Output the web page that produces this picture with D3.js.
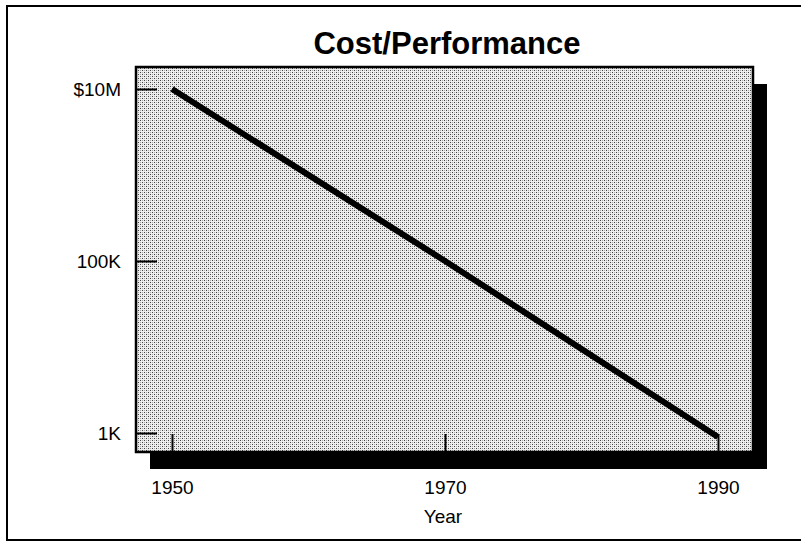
<!DOCTYPE html>
<html lang="en">
<head>
    <meta charset="UTF-8">
    <title>Cost/Performance</title>
    <style>
        body { margin: 0; background: #fff; }
        text { font-family: "Liberation Sans", Arial, Helvetica, sans-serif; fill: #000; }
    </style>
</head>
<body>
<script src="https://cdn.jsdelivr.net/npm/d3@7"></script>
<script>
    // data
    const years = [1950, 1970, 1990];
    const cost = [10000000, 100000, 900];
    const yTickValues = [1000, 100000, 10000000];
    const yTickLabels = ["1K", "100K", "$10M"];
    const xTickValues = [1950, 1970, 1990];

    const width = 801;
    const height = 542;

    // plot box
    const box = {left: 136, top: 67, right: 753, bottom: 452};
    const shadow = {dx: 14, dy: 17};

    const svg = d3.select("body").append("svg")
        .attr("width", width)
        .attr("height", height);

    // stipple fill
    const pattern = svg.append("defs").append("pattern")
        .attr("id", "dots")
        .attr("width", 4)
        .attr("height", 4)
        .attr("patternUnits", "userSpaceOnUse");
    pattern.append("rect").attr("width", 4).attr("height", 4).attr("fill", "#eeeeee");
    pattern.append("rect").attr("x", 0).attr("y", 0).attr("width", 1).attr("height", 1).attr("fill", "#444");
    pattern.append("rect").attr("x", 2).attr("y", 2).attr("width", 1).attr("height", 1).attr("fill", "#444");
    pattern.append("rect").attr("x", 2).attr("y", 0).attr("width", 1).attr("height", 1).attr("fill", "#aaa");
    pattern.append("rect").attr("x", 0).attr("y", 2).attr("width", 1).attr("height", 1).attr("fill", "#aaa");

    // outer frame
    svg.append("rect")
        .attr("x", 7)
        .attr("y", 6)
        .attr("width", 810)
        .attr("height", 534)
        .attr("fill", "none")
        .attr("stroke", "#000")
        .attr("stroke-width", 2);

    // Title
    svg.append("text")
        .attr("x", 447)
        .attr("y", 54)
        .attr("text-anchor", "middle")
        .style("font-size", "31px")
        .style("font-weight", "bold")
        .text("Cost/Performance");

    // drop shadow
    svg.append("rect")
        .attr("x", box.left + shadow.dx)
        .attr("y", box.top + shadow.dy)
        .attr("width", box.right - box.left)
        .attr("height", box.bottom - box.top)
        .attr("fill", "#000");

    // plot area
    svg.append("rect")
        .attr("x", box.left)
        .attr("y", box.top)
        .attr("width", box.right - box.left)
        .attr("height", box.bottom - box.top)
        .attr("fill", "url(#dots)")
        .attr("stroke", "#000")
        .attr("stroke-width", 2.5);

    // Scales
    const xScale = d3.scaleLinear()
        .domain([1950, 1990])
        .range([172, 718]);

    const yScale = d3.scaleLog()
        .domain([1000, 10000000])
        .range([433, 89]);

    // Y axis (ticks point inward)
    const yAxis = svg.append("g")
        .attr("transform", "translate(" + box.left + ",0)")
        .call(d3.axisLeft(yScale)
            .tickValues(yTickValues)
            .tickFormat((d, i) => yTickLabels[i])
            .tickSizeInner(-21)
            .tickSizeOuter(0)
            .tickPadding(15));
    yAxis.select(".domain").remove();
    yAxis.selectAll("line").attr("stroke", "#000").attr("stroke-width", 2);
    yAxis.selectAll("text")
        .attr("fill", "#000")
        .style("font-size", "19px");

    // X axis
    const xAxis = svg.append("g")
        .attr("transform", "translate(0," + box.bottom + ")")
        .call(d3.axisBottom(xScale)
            .tickValues(xTickValues)
            .tickFormat(d3.format("d"))
            .tickSizeInner(-18)
            .tickSizeOuter(0)
            .tickPadding(29));
    xAxis.select(".domain").remove();
    xAxis.selectAll("line").attr("stroke", "#000").attr("stroke-width", 2);
    xAxis.selectAll("text")
        .attr("fill", "#000")
        .style("font-size", "19px");

    svg.append("text")
        .attr("x", 443)
        .attr("y", 523)
        .attr("text-anchor", "middle")
        .style("font-size", "19px")
        .text("Year");

    // Line
    svg.append("path")
        .datum(years.map((y, i) => ({year: y, cost: cost[i]})))
        .attr("fill", "none")
        .attr("stroke", "#000")
        .attr("stroke-width", 6)
        .attr("d", d3.line()
            .x(item => xScale(item.year))
            .y(item => yScale(item.cost))
        );
</script>
</body>
</html>
